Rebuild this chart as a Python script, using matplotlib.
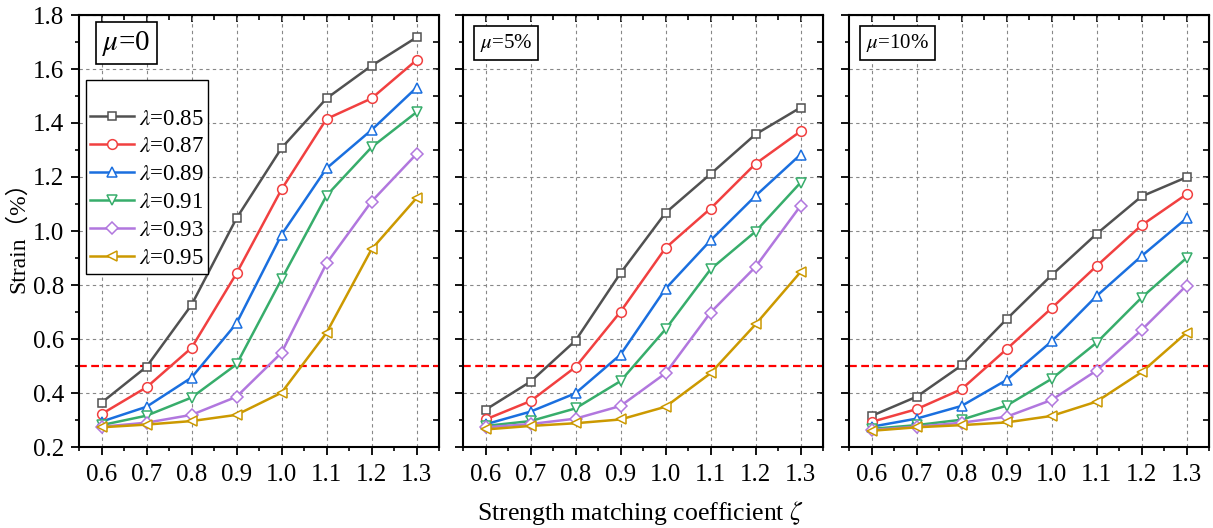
import matplotlib
matplotlib.use("Agg")
import matplotlib.pyplot as plt
from matplotlib.ticker import MultipleLocator
import numpy as np

plt.rcParams['font.family'] = ['Liberation Serif', 'Noto Sans CJK SC', 'DejaVu Sans']
plt.rcParams['mathtext.fontset'] = 'stix'

zeta = [0.6, 0.7, 0.8, 0.9, 1.0, 1.1, 1.2, 1.3]
lambda_labels = ["0.85", "0.87", "0.89", "0.91", "0.93", "0.95"]
panel_titles = [r"$\mu$=0", r"$\mu$=5%", r"$\mu$=10%"]

mu0 = [
    [0.364, 0.497, 0.726, 1.047, 1.307, 1.491, 1.612, 1.717],
    [0.322, 0.421, 0.567, 0.843, 1.154, 1.415, 1.491, 1.633],
    [0.294, 0.349, 0.457, 0.658, 0.986, 1.232, 1.374, 1.531],
    [0.281, 0.316, 0.383, 0.506, 0.821, 1.131, 1.310, 1.440],
    [0.275, 0.290, 0.319, 0.386, 0.549, 0.880, 1.109, 1.285],
    [0.273, 0.283, 0.296, 0.319, 0.401, 0.623, 0.932, 1.122],
]
mu5 = [
    [0.338, 0.442, 0.594, 0.844, 1.067, 1.211, 1.358, 1.457],
    [0.302, 0.370, 0.496, 0.701, 0.937, 1.083, 1.249, 1.369],
    [0.284, 0.331, 0.399, 0.542, 0.786, 0.965, 1.130, 1.283],
    [0.278, 0.296, 0.343, 0.444, 0.636, 0.858, 0.998, 1.179],
    [0.273, 0.285, 0.305, 0.352, 0.473, 0.698, 0.867, 1.093],
    [0.265, 0.278, 0.288, 0.302, 0.349, 0.473, 0.654, 0.848],
]
mu10 = [
    [0.315, 0.386, 0.502, 0.673, 0.836, 0.989, 1.128, 1.199],
    [0.293, 0.340, 0.414, 0.562, 0.714, 0.870, 1.021, 1.136],
    [0.275, 0.305, 0.352, 0.448, 0.591, 0.759, 0.907, 1.047],
    [0.267, 0.281, 0.301, 0.353, 0.452, 0.586, 0.753, 0.900],
    [0.263, 0.275, 0.290, 0.312, 0.374, 0.483, 0.633, 0.798],
    [0.260, 0.273, 0.281, 0.291, 0.315, 0.368, 0.477, 0.623],
]
threshold = 0.5

colors = ['#515151', '#F14040', '#1A6FDF', '#37AD6B', '#B177DE', '#CC9900']
markers = ['s', 'o', '^', 'v', 'D', '<']
msizes = [6, 7, 7.5, 7.5, 6, 7.5]

W, H = 1213, 528
fig = plt.figure(figsize=(W / 100, H / 100), dpi=100)

lefts = [79, 463, 849]
pw, top, bot = 360, 15, 447
datasets = [mu0, mu5, mu10]

for pi, (lx, data) in enumerate(zip(lefts, datasets)):
    ax = fig.add_axes([lx / W, (H - bot) / H, pw / W, (bot - top) / H])
    ax.set_xlim(0.55, 1.35)
    ax.set_ylim(0.2, 1.8)
    ax.xaxis.set_major_locator(MultipleLocator(0.1))
    ax.xaxis.set_minor_locator(MultipleLocator(0.05))
    ax.yaxis.set_major_locator(MultipleLocator(0.2))
    ax.yaxis.set_minor_locator(MultipleLocator(0.1))
    ax.grid(True, which='major', color='#888888', linestyle=(0, (3, 3)), linewidth=0.8)
    ax.set_axisbelow(True)
    for sp in ax.spines.values():
        sp.set_linewidth(1.5)
        sp.set_color('black')
    ax.tick_params(which='major', direction='out', length=5.5, width=1.3, labelsize=18)
    ax.tick_params(which='minor', direction='out', length=3, width=1.2)
    ax.tick_params(axis='x', which='major', pad=7)
    ax.tick_params(axis='y', which='major', pad=5)
    ax.set_xticks(zeta)
    ax.set_xticklabels([f"{v:.1f}" for v in zeta])
    if pi == 0:
        ax.set_yticklabels([f"{v:.1f}" for v in ax.get_yticks()])
    else:
        ax.tick_params(axis='y', labelleft=False)

    # mirrored inner ticks on top and right
    sx = ax.secondary_xaxis('top')
    sx.xaxis.set_major_locator(MultipleLocator(0.1))
    sx.xaxis.set_minor_locator(MultipleLocator(0.05))
    sx.tick_params(which='both', direction='in', labeltop=False, width=1.2)
    sx.tick_params(which='major', length=5)
    sx.tick_params(which='minor', length=3.5)
    sy = ax.secondary_yaxis('right')
    sy.yaxis.set_major_locator(MultipleLocator(0.2))
    sy.yaxis.set_minor_locator(MultipleLocator(0.1))
    sy.tick_params(which='both', direction='in', labelright=False, width=1.2, length=4.5)

    ax.axhline(threshold, color='#FF0000', linestyle=(0, (3.5, 2)), linewidth=1.6, zorder=2)

    for i, ys in enumerate(data):
        ax.plot(zeta, ys, color=colors[i], marker=markers[i], markersize=msizes[i],
                markerfacecolor='white', markeredgecolor=colors[i], markeredgewidth=1.1,
                linewidth=1.8, label=r"$\lambda$=" + lambda_labels[i], zorder=3 + i * 0.01)

    if pi == 0:
        ax.text(0.064, 0.935, panel_titles[pi], transform=ax.transAxes, fontsize=21,
                va='center', ha='left',
                bbox=dict(boxstyle='square,pad=0.22', facecolor='white', edgecolor='black', linewidth=1.2))
        leg = ax.legend(loc='upper left', bbox_to_anchor=(0.019, 0.8495), fontsize=16.5,
                        frameon=True, fancybox=False, edgecolor='black', framealpha=1,
                        handlelength=1.9, handletextpad=0.2, borderpad=0.2,
                        labelspacing=0.3, borderaxespad=0,
                        title=' ', title_fontsize=14)
        leg.get_frame().set_linewidth(1.0)
    else:
        ax.text(0.047, 0.935, panel_titles[pi], transform=ax.transAxes, fontsize=15,
                va='center', ha='left',
                bbox=dict(boxstyle='square,pad=0.28', facecolor='white', edgecolor='black', linewidth=1.2))

fig.text(18 / W, 0.5 * ((H - bot) + (H - top)) / H, "Strain（%）", rotation=90,
         fontsize=17, va='center', ha='center')
fig.text(640 / W, (H - 513) / H, r"Strength matching coefficient $\zeta$", fontsize=18.5,
         va='center', ha='center')

fig.savefig("out.png", dpi=100)
